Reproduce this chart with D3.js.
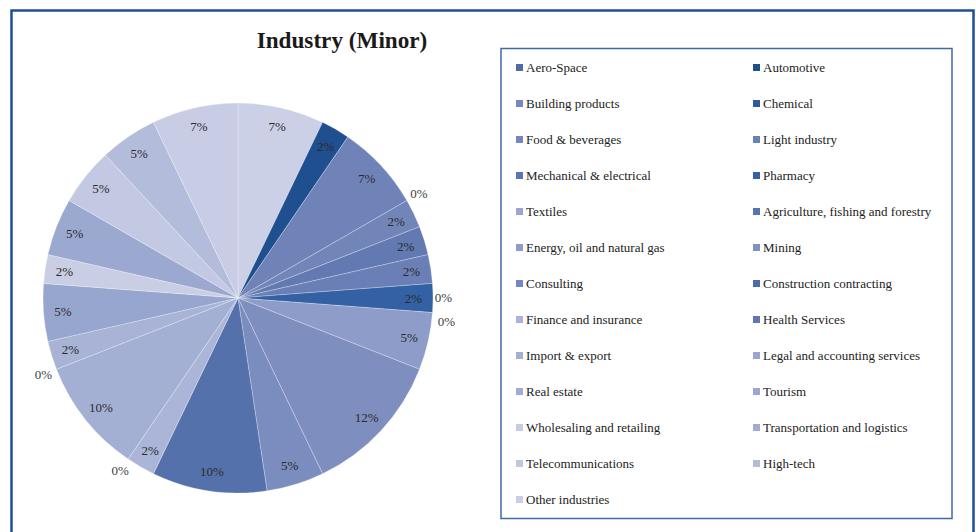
<!DOCTYPE html>
<html>
<head>
<meta charset="utf-8">
<script src="https://cdn.jsdelivr.net/npm/d3@7/dist/d3.min.js"></script>
<style>
  html, body { margin: 0; padding: 0; background: #ffffff; }
  svg { display: block; }
  text { font-family: "Liberation Serif", "DejaVu Serif", serif; }
</style>
</head>
<body>
<svg id="chart" width="976" height="532"></svg>
<script>
// Industries, in series order
const categories = [
  "Aero-Space", "Automotive", "Building products", "Chemical",
  "Food & beverages", "Light industry", "Mechanical & electrical", "Pharmacy",
  "Textiles", "Agriculture, fishing and forestry", "Energy, oil and natural gas", "Mining",
  "Consulting", "Construction contracting", "Finance and insurance", "Health Services",
  "Import & export", "Legal and accounting services", "Real estate", "Tourism",
  "Wholesaling and retailing", "Transportation and logistics", "Telecommunications", "High-tech",
  "Other industries"
];

// Number of companies per industry
const counts = [
  3, 1, 3, 0,
  1, 1, 1, 1,
  0, 0, 2, 5,
  2, 4, 1, 0,
  4, 0, 1, 2,
  1, 2, 2, 2,
  3
];

// Slice fills
const sliceFill = [
  "#cbd0e6", "#1f4f8f", "#6f83b8", "#2d5b9c",
  "#7285b9", "#6279b2", "#6a7fb6", "#3461a3",
  "#9aa6cf", "#5874b0", "#8e9cc9", "#7e8fbf",
  "#7b8dbf", "#5571ab", "#aab5d8", "#5f76b0",
  "#a3b0d4", "#9aa6cf", "#a8b3d6", "#97a6ce",
  "#c9cee5", "#9ba9d0", "#c3c9e3", "#b4bcdb",
  "#c8cde5"
];

// Legend swatch colours
const swatchFill = [
  "#4f6ba9", "#1f4f8f", "#7589bd", "#2d5b9c",
  "#7387bb", "#6a80b8", "#5d74b0", "#3561a3",
  "#9aa6cf", "#5874b0", "#8f9cc9", "#8192c2",
  "#7488c0", "#4f6aa8", "#a9b4d7", "#5f76b0",
  "#a3b0d4", "#9aa6cf", "#a0acd2", "#9aa7cf",
  "#c6cce4", "#a0acd2", "#c0c7e2", "#b4bcdb",
  "#c9cee6"
];

const chartTitle = "Industry (Minor)";

const svg = d3.select("#chart");

// outer chart frame
svg.append("rect")
  .attr("x", 11.5).attr("y", 10.5)
  .attr("width", 962).attr("height", 540)
  .attr("fill", "#ffffff")
  .attr("stroke", "#1c4f97")
  .attr("stroke-width", 2.5);

// title
svg.append("text")
  .attr("x", 342).attr("y", 48)
  .attr("text-anchor", "middle")
  .attr("font-size", 23.2)
  .attr("font-weight", "bold")
  .attr("fill", "#1a1a1a")
  .text(chartTitle);

// pie
const cx = 238, cy = 298, R = 195;
const data = categories.map((c, i) => ({ name: c, value: counts[i], i }));
const total = d3.sum(counts);
const pct = d3.format(".0%");

const pie = d3.pie().value(d => d.value).sort(null)
  .startAngle(0).endAngle(2 * Math.PI);
const arcs = pie(data);
const arc = d3.arc().innerRadius(0).outerRadius(R);

const g = svg.append("g").attr("transform", `translate(${cx},${cy})`);

g.selectAll("path.slice")
  .data(arcs.filter(a => a.data.value > 0))
  .join("path")
  .attr("class", "slice")
  .attr("d", arc)
  .attr("fill", d => sliceFill[d.data.i])
  .attr("stroke", "#ffffff")
  .attr("stroke-opacity", 0.45)
  .attr("stroke-width", 0.6);

// value labels: inside the slice end for non-empty slices, just outside the rim for empty ones
const inner = d3.arc().innerRadius(R * 0.9).outerRadius(R * 0.9);
const labels = arcs.map(a => {
  if (a.data.value > 0) {
    const [x, y] = inner.centroid(a);
    return { a, x, y, out: false };
  }
  const ang = a.startAngle;
  const rr = R + 14;
  return { a, x: Math.sin(ang) * rr, y: -Math.cos(ang) * rr, out: true };
});

// spread out rim labels that land on top of each other
const outs = labels.filter(l => l.out);
for (let k = 1; k < outs.length; k++) {
  const p = outs[k - 1], q = outs[k];
  if (Math.abs(p.x - q.x) < 20 && Math.abs(p.y - q.y) < 14) {
    p.y -= 16; p.x -= 3; q.y += 8;
  }
}

g.selectAll("text.val")
  .data(labels)
  .join("text")
  .attr("class", "val")
  .attr("x", d => d.x)
  .attr("y", d => d.y)
  .attr("dy", "0.35em")
  .attr("text-anchor", "middle")
  .attr("font-size", 13)
  .attr("fill", d => d.out ? "#404040" : "#2b2b2b")
  .text(d => pct(d.a.data.value / total));

// legend box
svg.append("rect")
  .attr("x", 501).attr("y", 48.5)
  .attr("width", 451).attr("height", 470)
  .attr("fill", "#ffffff")
  .attr("stroke", "#3d6aa8")
  .attr("stroke-width", 1.5);

const colX = d3.scaleOrdinal().domain([0, 1]).range([516, 753]);
const rowY = d3.scaleLinear().domain([0, 12]).range([67.5, 499.5]);

const items = svg.append("g").selectAll("g.item")
  .data(data)
  .join("g")
  .attr("class", "item")
  .attr("transform", d => `translate(${colX(d.i % 2)},${rowY(Math.floor(d.i / 2))})`);

items.append("rect")
  .attr("x", 0).attr("y", -3.5)
  .attr("width", 7).attr("height", 7)
  .attr("fill", d => swatchFill[d.i]);

items.append("text")
  .attr("x", 10).attr("y", 0)
  .attr("dy", "0.35em")
  .attr("font-size", 13)
  .attr("fill", "#222222")
  .text(d => d.name);
</script>
</body>
</html>
